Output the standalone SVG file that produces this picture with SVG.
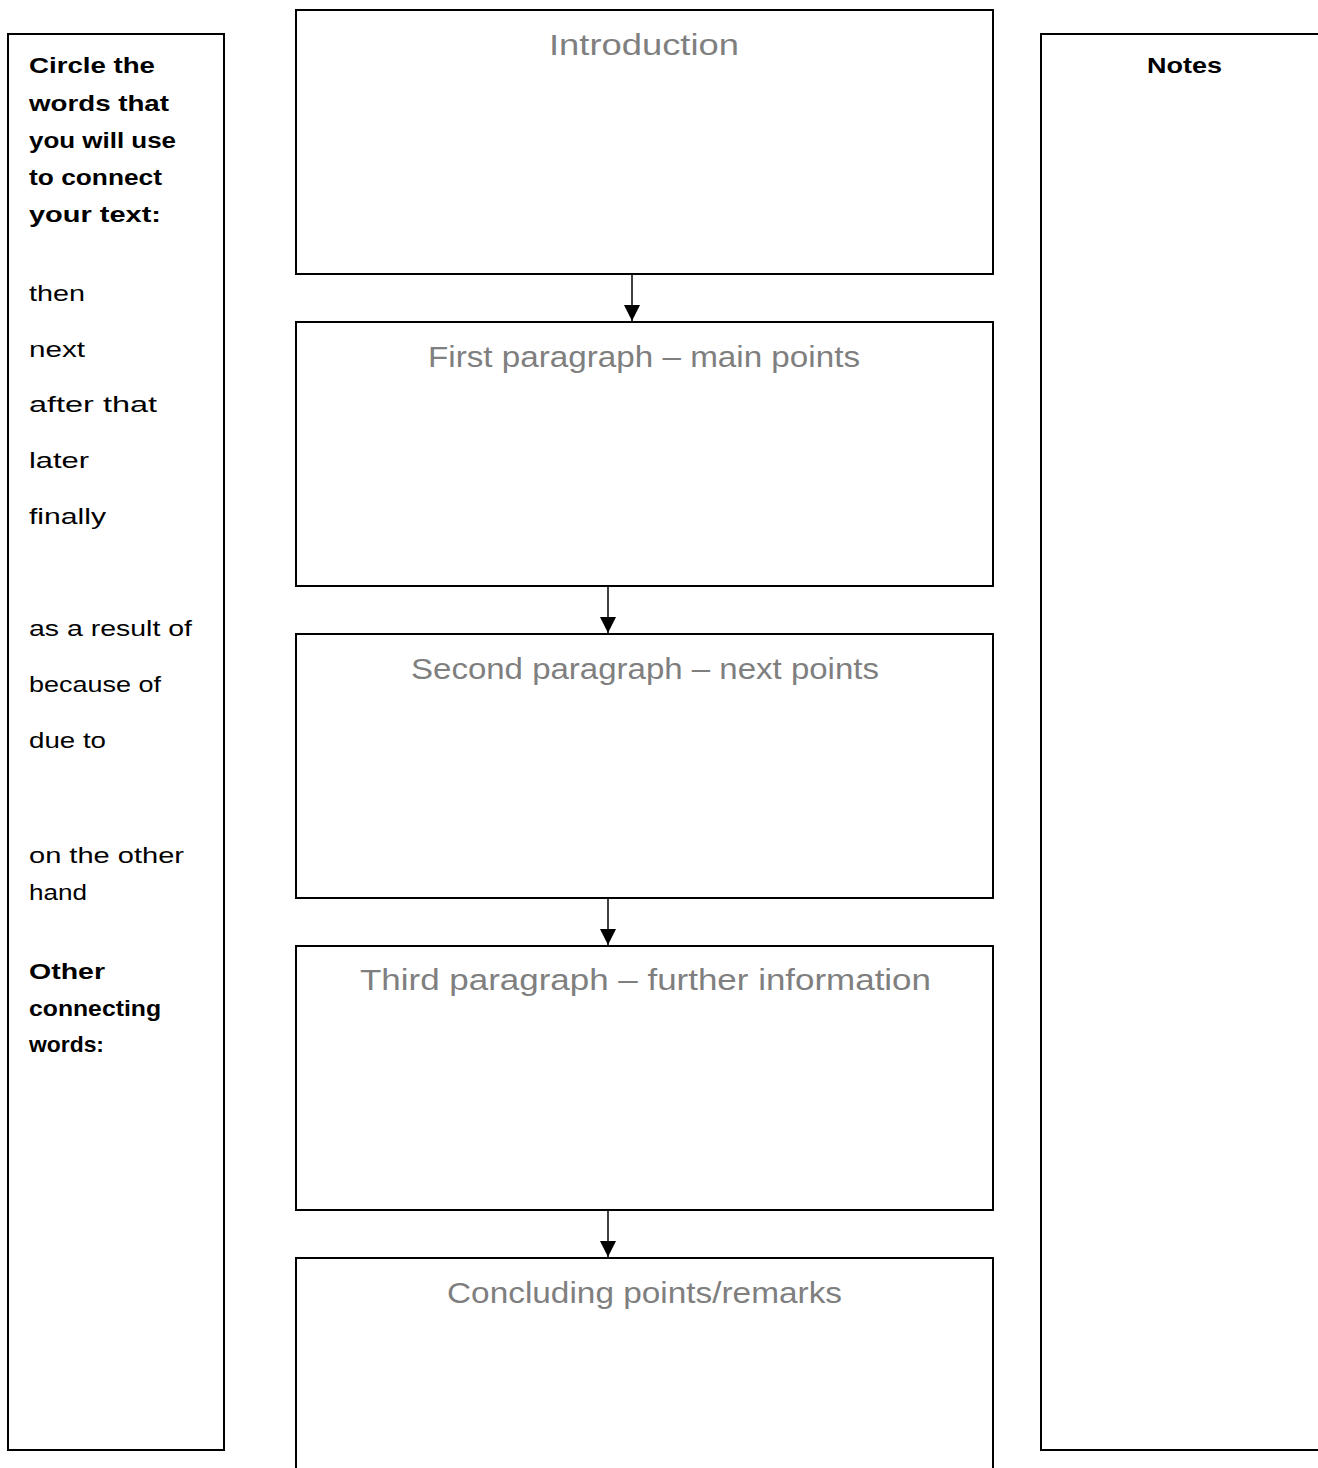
<svg xmlns="http://www.w3.org/2000/svg" width="1318" height="1468" viewBox="0 0 1318 1468">
<defs>
<style>
.box{fill:#fff;stroke:#000;stroke-width:2}
.title{font-family:"Liberation Sans",Arial,sans-serif;font-size:30px;fill:#7f7f7f;text-anchor:middle}
.lb{font-family:"Liberation Sans",Arial,sans-serif;font-size:22px;font-weight:bold;fill:#000}
.lr{font-family:"Liberation Sans",Arial,sans-serif;font-size:22px;fill:#000}
.conn{stroke:#000;stroke-width:1.5;fill:none}
</style>
<marker id="arr" markerUnits="userSpaceOnUse" markerWidth="16" markerHeight="16" viewBox="0 0 16 16" refX="16" refY="8" orient="auto">
<path d="M0,0 L16,8 L0,16 Z" fill="#000"/>
</marker>
</defs>
<rect width="1318" height="1468" fill="#fff"/>

<g id="left-panel">
<rect class="box" x="8" y="34" width="216" height="1416"/>
<text class="lb" x="29" y="73" textLength="126" lengthAdjust="spacingAndGlyphs">Circle the</text>
<text class="lb" x="29" y="110.5" textLength="140" lengthAdjust="spacingAndGlyphs">words that</text>
<text class="lb" x="29" y="148" textLength="147" lengthAdjust="spacingAndGlyphs">you will use</text>
<text class="lb" x="29" y="185" textLength="133" lengthAdjust="spacingAndGlyphs">to connect</text>
<text class="lb" x="29" y="222" textLength="132" lengthAdjust="spacingAndGlyphs">your text:</text>
<text class="lr" x="29" y="301" textLength="56" lengthAdjust="spacingAndGlyphs">then</text>
<text class="lr" x="29" y="357" textLength="56" lengthAdjust="spacingAndGlyphs">next</text>
<text class="lr" x="29" y="412" textLength="128" lengthAdjust="spacingAndGlyphs">after that</text>
<text class="lr" x="29" y="468" textLength="60" lengthAdjust="spacingAndGlyphs">later</text>
<text class="lr" x="29" y="524" textLength="77" lengthAdjust="spacingAndGlyphs">finally</text>
<text class="lr" x="29" y="636" textLength="163" lengthAdjust="spacingAndGlyphs">as a result of</text>
<text class="lr" x="29" y="692" textLength="132" lengthAdjust="spacingAndGlyphs">because of</text>
<text class="lr" x="29" y="748" textLength="77" lengthAdjust="spacingAndGlyphs">due to</text>
<text class="lr" x="29" y="863" textLength="155" lengthAdjust="spacingAndGlyphs">on the other</text>
<text class="lr" x="29" y="900" textLength="58" lengthAdjust="spacingAndGlyphs">hand</text>
<text class="lb" x="29" y="979" textLength="76" lengthAdjust="spacingAndGlyphs">Other</text>
<text class="lb" x="29" y="1016" textLength="132" lengthAdjust="spacingAndGlyphs">connecting</text>
<text class="lb" x="29" y="1052" textLength="75" lengthAdjust="spacingAndGlyphs">words:</text>
</g>

<g id="notes-panel">
<rect class="box" x="1041" y="34" width="300" height="1416"/>
<text class="lb" x="1147" y="73" textLength="75" lengthAdjust="spacingAndGlyphs">Notes</text>
</g>

<g id="introduction">
<rect class="box" x="296" y="10" width="697" height="264"/>
<text class="title" x="644" y="55" textLength="190" lengthAdjust="spacingAndGlyphs">Introduction</text>
</g>
<g id="first-paragraph">
<rect class="box" x="296" y="322" width="697" height="264"/>
<text class="title" x="644" y="367" textLength="432" lengthAdjust="spacingAndGlyphs">First paragraph – main points</text>
</g>
<g id="second-paragraph">
<rect class="box" x="296" y="634" width="697" height="264"/>
<text class="title" x="645" y="679" textLength="468" lengthAdjust="spacingAndGlyphs">Second paragraph – next points</text>
</g>
<g id="third-paragraph">
<rect class="box" x="296" y="946" width="697" height="264"/>
<text class="title" x="645.5" y="990" textLength="571" lengthAdjust="spacingAndGlyphs">Third paragraph – further information</text>
</g>
<g id="concluding">
<rect class="box" x="296" y="1258" width="697" height="240"/>
<text class="title" x="644.5" y="1303" textLength="395" lengthAdjust="spacingAndGlyphs">Concluding points/remarks</text>
</g>

<g id="connectors">
<line class="conn" x1="632" y1="275" x2="632" y2="321" marker-end="url(#arr)"/>
<line class="conn" x1="608" y1="587" x2="608" y2="633" marker-end="url(#arr)"/>
<line class="conn" x1="608" y1="899" x2="608" y2="945" marker-end="url(#arr)"/>
<line class="conn" x1="608" y1="1211" x2="608" y2="1257" marker-end="url(#arr)"/>
</g>
</svg>
